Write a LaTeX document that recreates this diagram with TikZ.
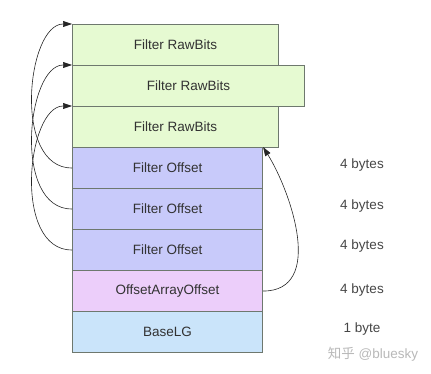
\documentclass[tikz,border=0pt]{standalone}
\usepackage{fontspec}
\setmainfont{Liberation Sans}
\newfontfamily\cjk{Noto Sans CJK SC}
\usetikzlibrary{arrows.meta}
\definecolor{gfill}{RGB}{230,250,210}
\definecolor{bfill}{RGB}{200,202,250}
\definecolor{pfill}{RGB}{236,206,250}
\definecolor{lfill}{RGB}{202,228,250}
\definecolor{edge}{RGB}{110,120,110}
\definecolor{txt}{RGB}{50,50,50}
\begin{document}
\begin{tikzpicture}[x=1pt,y=-1pt,
  cell/.style={draw=edge,line width=1.1pt,anchor=north west,inner sep=0pt,minimum height=41pt,text=txt,font=\fontsize{13.5}{15}\selectfont},
  sz/.style={text=txt!90,font=\fontsize{13.5}{15}\selectfont},
  link/.style={line width=0.6pt,draw=black!85,-{Triangle[length=9pt,width=6pt]}}]
\useasboundingbox (0,0) rectangle (431,374);
\node[cell,fill=gfill,minimum width=206pt] (r1) at (72,24) {Filter RawBits};
\node[cell,fill=gfill,minimum width=232pt] (r2) at (72,65) {Filter RawBits};
\node[cell,fill=gfill,minimum width=206pt] (r3) at (72,106) {Filter RawBits};
\node[cell,fill=bfill,minimum width=190pt] (o1) at (72,147) {Filter Offset};
\node[cell,fill=bfill,minimum width=190pt] (o2) at (72,188) {Filter Offset};
\node[cell,fill=bfill,minimum width=190pt] (o3) at (72,229) {Filter Offset};
\node[cell,fill=pfill,minimum width=190pt] (oa) at (72,270) {OffsetArrayOffset};
\node[cell,fill=lfill,minimum width=190pt] (bl) at (72,311) {BaseLG};
\node[sz] (s1) at (362,165) {4 bytes};
\node[sz] (s2) at (362,206) {4 bytes};
\node[sz] (s3) at (362,246) {4 bytes};
\node[sz] (s4) at (362,290) {4 bytes};
\node[sz] (s5) at (362,329) {1 byte};
\node[text=black!28,font=\fontsize{13.5}{15}\selectfont] (wm) at (373,354) {{\cjk 知乎} @bluesky};
\draw[link] (o1.west) .. controls +(-60,0) and +(-45,0) .. (r1.north west);
\draw[link] (o2.west) .. controls +(-60,0) and +(-45,0) .. (r2.north west);
\draw[link] (o3.west) .. controls +(-60,0) and +(-45,0) .. (r3.north west);
\draw[link] (oa.east) .. controls +(62,0) and +(28,45) .. (o1.north east);
\end{tikzpicture}
\end{document}
